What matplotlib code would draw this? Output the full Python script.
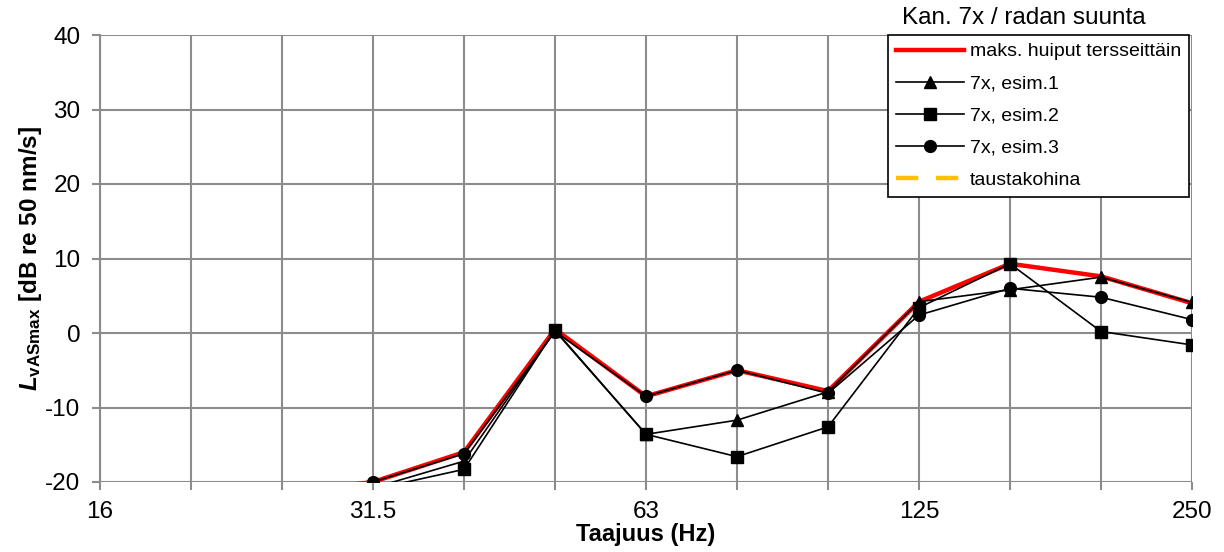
import numpy as np
import matplotlib
matplotlib.use("Agg")
import matplotlib.pyplot as plt

plt.rcParams['font.family'] = ['Liberation Sans', 'DejaVu Sans']
plt.rcParams['axes.unicode_minus'] = False
plt.rcParams['mathtext.fontset'] = 'custom'
plt.rcParams['mathtext.it'] = 'Liberation Sans:italic:bold'
plt.rcParams['mathtext.bf'] = 'Liberation Sans:bold'
plt.rcParams['mathtext.rm'] = 'Liberation Sans:bold'

# tersikaistat 16 ... 250 Hz
bands = ['16', '20', '25', '31.5', '40', '50', '63', '80', '100', '125', '160', '200', '250']
shown = ['16', '31.5', '63', '125', '250']

nan = np.nan
maks = [nan, nan, -21.5, -20.0, -16.0, 0.5, -8.5, -5.0, -7.8, 4.2, 9.3, 7.6, 4.0]
esim1 = [nan, nan, nan, -20.8, -17.2, 0.3, -13.6, -11.7, -7.9, 4.2, 5.8, 7.5, 4.1]
esim2 = [nan, nan, nan, -21.0, -18.3, 0.4, -13.6, -16.6, -12.6, 3.4, 9.3, 0.2, -1.6]
esim3 = [nan, nan, nan, -20.0, -16.2, 0.2, -8.5, -5.0, -8.1, 2.4, 6.0, 4.8, 1.8]
tausta = [nan] * 13

x = np.arange(len(bands))

fig = plt.figure(figsize=(12.24, 5.52), dpi=100)
ax = fig.add_axes([100 / 1224, 1 - 482 / 552, 1092 / 1224, 447 / 552])

ax.plot(x, maks, color='#ff0000', lw=3.2, label='maks. huiput tersseittäin', zorder=3)
ax.plot(x, esim1, color='black', lw=1.2, marker='^', ms=8, label='7x, esim.1', zorder=4)
ax.plot(x, esim2, color='black', lw=1.2, marker='s', ms=8.5, label='7x, esim.2', zorder=4)
ax.plot(x, esim3, color='black', lw=1.2, marker='o', ms=8.5, label='7x, esim.3', zorder=4)
ax.plot(x, tausta, color='#ffc000', lw=3.2, ls=(0, (5, 4)), label='taustakohina', zorder=3)

ax.set_xlim(0, 12)
ax.set_ylim(-20, 40)
ax.set_yticks(range(-20, 41, 10))
ax.set_xticks(x)
ax.set_xticklabels([b if b in shown else '' for b in bands])
ax.grid(True, color='#8c8c8c', lw=1.5)
ax.set_axisbelow(True)
for s in ax.spines.values():
    s.set_visible(False)
ax.spines['left'].set_visible(True)
ax.spines['left'].set_color('#8c8c8c')
ax.spines['left'].set_linewidth(1.5)
ax.tick_params(axis='both', labelsize=17.5, colors='#8c8c8c', labelcolor='black', width=1.5, length=6)
ax.tick_params(axis='x', pad=7.5)
ax.tick_params(axis='y', pad=8)

ax.set_xlabel('Taajuus (Hz)', fontsize=17, fontweight='bold')
ax.xaxis.set_label_coords(0.5, -0.117)
ax.xaxis.label.set_va('center')
ax.set_ylabel(r'$\mathit{L}_{\mathbf{vASmax}}$ [dB re 50 nm/s]', fontsize=17.5, fontweight='bold')
ax.yaxis.set_label_coords(-0.064, 0.5)
ax.yaxis.label.set_va('center')

leg = ax.legend(loc='upper right', bbox_to_anchor=(0.997, 1.0), fontsize=14, fancybox=False,
                framealpha=1, edgecolor='black', borderaxespad=0, handlelength=3.5,
                handletextpad=0.3, labelspacing=0.75, borderpad=0.4)
leg.get_frame().set_linewidth(1.2)
fig.text(1024 / 1224, 1 - 18 / 552, 'Kan. 7x / radan suunta', fontsize=17.5, ha='center', va='center')

fig.savefig('out.png', dpi=100)
